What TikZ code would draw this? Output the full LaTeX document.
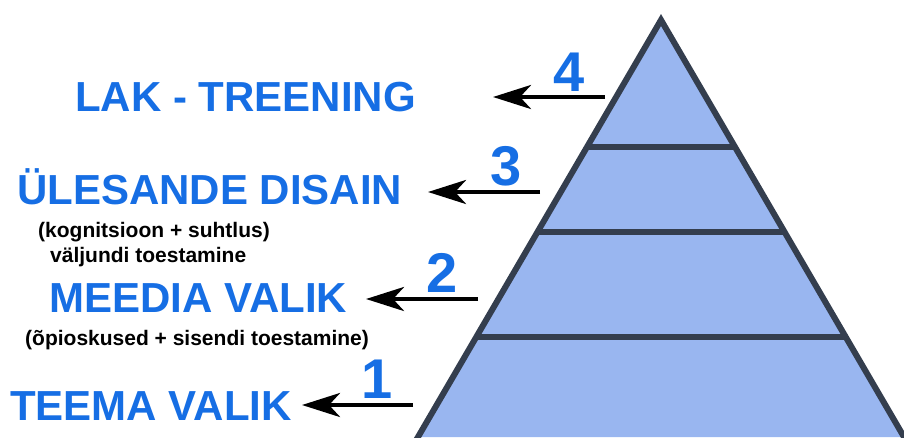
\documentclass[tikz,border=0pt]{standalone}
\usepackage{fontspec}
\setmainfont{Liberation Sans}
\usepackage[dvipsnames,svgnames,x11names]{xcolor}
\usetikzlibrary{arrows.meta,calc}
\definecolor{tierfill}{RGB}{153,182,240}
\definecolor{tierline}{RGB}{52,62,78}
\definecolor{labelblue}{RGB}{22,110,228}

\begin{document}
\begin{tikzpicture}[x=1pt,y=-1pt,>=Stealth,
  biglabel/.style={anchor=base west,inner sep=0pt,text=labelblue,font=\bfseries\fontsize{42}{42}\selectfont},
  smalllabel/.style={anchor=base west,inner sep=0pt,text=black,font=\bfseries\fontsize{21}{21}\selectfont},
  levelnum/.style={anchor=base east,inner sep=0pt,text=labelblue,font=\bfseries\fontsize{56}{56}\selectfont},
  levelarrow/.style={line width=4.5pt,draw=black,-{Stealth[length=38pt,width=24pt,inset=11pt]}},
  tier/.style={line width=6pt,draw=tierline}]
\useasboundingbox (0,0) rectangle (904,437);
% pyramid
\coordinate (apex) at (661,20);
\coordinate (bl) at (418,437);
\coordinate (br) at (904,437);
\fill[tierfill] (apex) -- (bl) -- (br) -- cycle;
\foreach \t/\n in {0.3046/a,0.5084/b,0.7602/c}{
  \coordinate (l\n) at ($(apex)!\t!(bl)$);
  \coordinate (r\n) at ($(apex)!\t!(br)$);
}
\draw[tier] (la) -- (ra);
\draw[tier] (lb) -- (rb);
\draw[tier] (lc) -- (rc);
\draw[tier,line join=miter] ($(apex)!1.02!(bl)$) -- (apex) -- ($(apex)!1.02!(br)$);
% labels
\node[biglabel] (lak) at (75,111) {LAK - TREENING};
\node[biglabel] (ylesanne) at (17,204) {ÜLESANDE DISAIN};
\node[smalllabel] (kogn) at (38,237) {(kognitsioon + suhtlus)};
\node[smalllabel] (valjund) at (50,262) {väljundi toestamine};
\node[biglabel] (meedia) at (49,312) {MEEDIA VALIK};
\node[smalllabel] (opi) at (25,345) {(õpioskused + sisendi toestamine)};
\node[biglabel] (teema) at (10,420) {TEEMA VALIK};
% level numbers and arrows
\node[levelnum] (n4) at (585,91) {4};
\node[levelnum] (n3) at (522,185) {3};
\node[levelnum] (n2) at (458,292) {2};
\node[levelnum] (n1) at (393,398) {1};
\coordinate (t4) at (605,97);  \coordinate (h4) at (493,97);
\coordinate (t3) at (540,192); \coordinate (h3) at (428,192);
\coordinate (t2) at (478,299); \coordinate (h2) at (366,299);
\coordinate (t1) at (413,405); \coordinate (h1) at (302,405);
\draw[levelarrow] (t4) -- (h4);
\draw[levelarrow] (t3) -- (h3);
\draw[levelarrow] (t2) -- (h2);
\draw[levelarrow] (t1) -- (h1);
\end{tikzpicture}
\end{document}
